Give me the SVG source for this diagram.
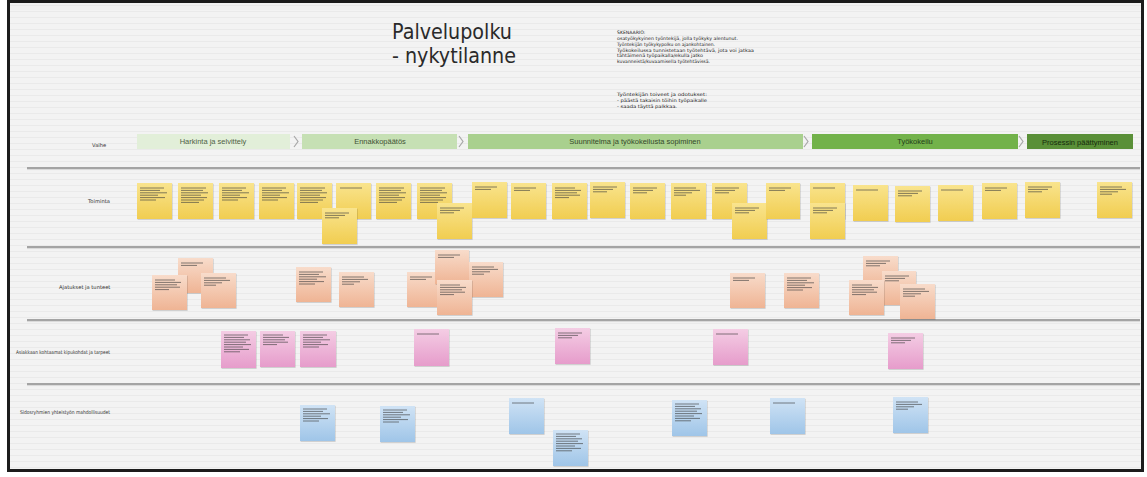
<svg xmlns="http://www.w3.org/2000/svg" xmlns:xlink="http://www.w3.org/1999/xlink" width="1147" height="477" viewBox="0 0 1147 477">
<style>
.lbl{font-family:"DejaVu Sans",sans-serif;font-size:5.2px;fill:#333}
.bar{font-family:"Liberation Sans","Open Sans",sans-serif;font-size:7.5px;text-anchor:middle}
.scn{font-family:"DejaVu Sans",sans-serif;font-size:4.6px;fill:#222}
.ttl{font-family:"DejaVu Sans",sans-serif;font-size:21px;fill:#2a2a2a}
.sep{stroke:#a4a4a4;stroke-width:1.8}
.seps{stroke:#d8d8d8;stroke-width:1}
.chev{fill:none;stroke:#a8a8a8;stroke-width:1.2}
.y{fill:url(#gy)}
.o{fill:url(#go)}
.p{fill:url(#gp)}
.b{fill:url(#gb)}
.n{filter:url(#sh)}
.tl{stroke:#3c3c3c;stroke-width:0.9;opacity:0.7}
</style>
<defs>
<pattern id="stripes" width="8" height="6" patternUnits="userSpaceOnUse">
<rect width="8" height="6" fill="#f3f3f3"/>
<rect y="5" width="8" height="1" fill="#eaeaea"/>
</pattern>
<linearGradient id="gy" x1="0" y1="0" x2="0" y2="1"><stop offset="0" stop-color="#f9e48e"/><stop offset="1" stop-color="#f1cd50"/></linearGradient>
<linearGradient id="go" x1="0" y1="0" x2="0" y2="1"><stop offset="0" stop-color="#f8dccb"/><stop offset="1" stop-color="#efb494"/></linearGradient>
<linearGradient id="gp" x1="0" y1="0" x2="0" y2="1"><stop offset="0" stop-color="#f4cde4"/><stop offset="1" stop-color="#e69ccb"/></linearGradient>
<linearGradient id="gb" x1="0" y1="0" x2="0" y2="1"><stop offset="0" stop-color="#d0e3f5"/><stop offset="1" stop-color="#9fc5e8"/></linearGradient>
<filter id="sh" x="-10%" y="-10%" width="130%" height="130%"><feDropShadow dx="0.6" dy="0.8" stdDeviation="0.6" flood-color="#000" flood-opacity="0.18"/></filter>
<g id="L1" class="tl"><path d="M0 0h22"/></g>
<g id="L2" class="tl"><path d="M0 0h22M0 2.4h16"/></g>
<g id="L3" class="tl"><path d="M0 0h24M0 2.4h20M0 4.8h14"/></g>
<g id="L4" class="tl"><path d="M0 0h22M0 2.4h26M0 4.8h18M0 7.2h12"/></g>
<g id="L5" class="tl"><path d="M0 0h20M0 2.4h26M0 4.8h22M0 7.2h25M0 9.6h14"/></g>
<g id="L6" class="tl"><path d="M0 0h24M0 2.4h20M0 4.8h27M0 7.2h18M0 9.6h25M0 12h16"/></g>
<g id="L7" class="tl"><path d="M0 0h25M0 2.4h22M0 4.8h27M0 7.2h20M0 9.6h26M0 12h23M0 14.4h18"/></g>
<g id="L8" class="tl"><path d="M0 0h24M0 2.4h20M0 4.8h26M0 7.2h22M0 9.6h27M0 12h19M0 14.4h25M0 16.8h16"/></g>
</defs>

<rect width="1147" height="477" fill="#ffffff"/>
<rect x="8.5" y="1.5" width="1134" height="469" fill="url(#stripes)" stroke="#1c1c1c" stroke-width="3"/>

<g id="title">
<text class="ttl" x="392" y="39" textLength="120" lengthAdjust="spacingAndGlyphs">Palvelupolku</text>
<text class="ttl" x="392" y="63" textLength="124" lengthAdjust="spacingAndGlyphs">- nykytilanne</text>
</g>

<g id="scenario">
<text class="scn" x="617" y="34">SKENAARIO:</text>
<text class="scn" x="617" y="40" textLength="121" lengthAdjust="spacingAndGlyphs">osatyökykyinen työntekijä, jolla työkyky alentunut.</text>
<text class="scn" x="617" y="46" textLength="98" lengthAdjust="spacingAndGlyphs">Työntekijän työkykypolku on ajankohtainen.</text>
<text class="scn" x="617" y="51.5" textLength="137" lengthAdjust="spacingAndGlyphs">Työkokeilussa tunnistetaan työtehtävä, jota voi jatkaa</text>
<text class="scn" x="617" y="57" textLength="86" lengthAdjust="spacingAndGlyphs">tähtäimenä työpaikalla/ekulla jatko</text>
<text class="scn" x="617" y="62.5" textLength="93" lengthAdjust="spacingAndGlyphs">kuvanneistä/kuvaamisella työtehtävissä.</text>
<text class="scn" x="617" y="96" textLength="90" lengthAdjust="spacingAndGlyphs">Työntekijän toiveet ja odotukset:</text>
<text class="scn" x="617" y="102" textLength="90" lengthAdjust="spacingAndGlyphs">- päästä takaisin töihin työpaikalle</text>
<text class="scn" x="617" y="108" textLength="60" lengthAdjust="spacingAndGlyphs">- saada täyttä palkkaa.</text>
</g>

<g id="row-labels">
<text class="lbl" x="92" y="147">Vaihe</text>
<text class="lbl" x="88" y="203">Toiminta</text>
<text class="lbl" x="59" y="289">Ajatukset ja tunteet</text>
<text class="lbl" x="16" y="354" textLength="94" lengthAdjust="spacingAndGlyphs">Asiakkaan kohtaamat kipukohdat ja tarpeet</text>
<text class="lbl" x="20" y="414" textLength="90" lengthAdjust="spacingAndGlyphs">Sidosryhmien yhteistyön mahdollisuudet</text>
</g>

<g id="connectors">
<line class="sep" x1="27" y1="168" x2="1140" y2="168"/><line class="seps" x1="27" y1="169.6" x2="1140" y2="169.6"/>
<line class="sep" x1="27" y1="247" x2="1140" y2="247"/><line class="seps" x1="27" y1="248.6" x2="1140" y2="248.6"/>
<line class="sep" x1="27" y1="320" x2="1140" y2="320"/><line class="seps" x1="27" y1="321.6" x2="1140" y2="321.6"/>
<line class="sep" x1="27" y1="384" x2="1140" y2="384"/><line class="seps" x1="27" y1="385.6" x2="1140" y2="385.6"/>
<polyline class="chev" points="294,136 298,141.5 294,147"/>
<polyline class="chev" points="459,136 463,141.5 459,147"/>
<polyline class="chev" points="804,136 808,141.5 804,147"/>
<polyline class="chev" points="1019,136 1023,141.5 1019,147"/>
</g>

<g id="stage-1"><rect x="137" y="134" width="153" height="15" fill="#e2efd9"/><text class="bar" x="213" y="144" fill="#4f5f45">Harkinta ja selvittely</text></g>
<g id="stage-2"><rect x="302" y="134" width="155" height="15" fill="#c6e0b4"/><text class="bar" x="380" y="144" fill="#3f5234" font-size="8">Ennakkopäätös</text></g>
<g id="stage-3"><rect x="468" y="134" width="335" height="15" fill="#a9d08e"/><text class="bar" x="635" y="144" fill="#34492a">Suunnitelma ja työkokeilusta sopiminen</text></g>
<g id="stage-4"><rect x="812" y="134" width="206" height="15" fill="#72b24a"/><text class="bar" x="915" y="144" fill="#24401a">Työkokeilu</text></g>
<g id="stage-5"><rect x="1027" y="134" width="106" height="15" fill="#5a9038"/><text class="bar" x="1080" y="144.8" fill="#152a0c" font-size="8.6">Prosessin päättyminen</text></g>

<!-- Toiminta (yellow) -->
<g id="t1" class="n"><rect class="y" x="137" y="183" width="35" height="36"/><use href="#L6" x="140" y="188"/></g>
<g id="t2" class="n"><rect class="y" x="178" y="183" width="35" height="36"/><use href="#L7" x="181" y="188"/></g>
<g id="t3" class="n"><rect class="y" x="219" y="183" width="35" height="36"/><use href="#L6" x="222" y="188"/></g>
<g id="t4" class="n"><rect class="y" x="259" y="183" width="35" height="36"/><use href="#L6" x="262" y="188"/></g>
<g id="t5" class="n"><rect class="y" x="297" y="183" width="35" height="36"/><use href="#L7" x="300" y="188"/></g>
<g id="t7" class="n"><rect class="y" x="336" y="183" width="35" height="36"/><use href="#L1" x="340" y="188"/></g>
<g id="t6" class="n"><rect class="y" x="322" y="208" width="35" height="36"/><use href="#L3" x="325" y="213"/></g>
<g id="t8" class="n"><rect class="y" x="376" y="183" width="35" height="36"/><use href="#L7" x="379" y="188"/></g>
<g id="t9" class="n"><rect class="y" x="417" y="183" width="35" height="36"/><use href="#L7" x="420" y="188"/></g>
<g id="t10" class="n"><rect class="y" x="437" y="203" width="35" height="36"/><use href="#L3" x="440" y="208"/></g>
<g id="t11" class="n"><rect class="y" x="472" y="182" width="35" height="36"/><use href="#L2" x="475" y="187"/></g>
<g id="t12" class="n"><rect class="y" x="511" y="183" width="35" height="36"/><use href="#L2" x="514" y="188"/></g>
<g id="t13" class="n"><rect class="y" x="552" y="183" width="35" height="36"/><use href="#L5" x="555" y="188"/></g>
<g id="t14" class="n"><rect class="y" x="590" y="182" width="35" height="36"/><use href="#L3" x="593" y="187"/></g>
<g id="t15" class="n"><rect class="y" x="630" y="183" width="35" height="36"/><use href="#L3" x="633" y="188"/></g>
<g id="t16" class="n"><rect class="y" x="671" y="183" width="35" height="36"/><use href="#L4" x="674" y="188"/></g>
<g id="t17" class="n"><rect class="y" x="712" y="183" width="35" height="36"/><use href="#L3" x="715" y="188"/></g>
<g id="t18" class="n"><rect class="y" x="732" y="203" width="35" height="36"/><use href="#L3" x="735" y="208"/></g>
<g id="t19" class="n"><rect class="y" x="766" y="183" width="34" height="36"/><use href="#L2" x="769" y="188"/></g>
<g id="t20" class="n"><rect class="y" x="810" y="183" width="35" height="36"/><use href="#L1" x="813" y="188"/></g>
<g id="t21" class="n"><rect class="y" x="810" y="203" width="35" height="36"/><use href="#L3" x="813" y="208"/></g>
<g id="t22" class="n"><rect class="y" x="853" y="185" width="35" height="36"/><use href="#L1" x="856" y="190"/></g>
<g id="t23" class="n"><rect class="y" x="895" y="186" width="35" height="36"/><use href="#L3" x="898" y="191"/></g>
<g id="t24" class="n"><rect class="y" x="938" y="185" width="35" height="36"/><use href="#L1" x="941" y="190"/></g>
<g id="t25" class="n"><rect class="y" x="982" y="183" width="35" height="36"/><use href="#L2" x="985" y="188"/></g>
<g id="t26" class="n"><rect class="y" x="1025" y="182" width="35" height="36"/><use href="#L3" x="1028" y="187"/></g>
<g id="t27" class="n"><rect class="y" x="1097" y="182" width="35" height="36"/><use href="#L4" x="1100" y="187"/></g>

<!-- Ajatukset ja tunteet (orange) -->
<g id="a2" class="n"><rect class="o" x="178" y="258" width="35" height="35"/><use href="#L2" x="181" y="263"/></g>
<g id="a1" class="n"><rect class="o" x="152" y="275" width="35" height="35"/><use href="#L5" x="155" y="280"/></g>
<g id="a3" class="n"><rect class="o" x="201" y="273" width="35" height="35"/><use href="#L4" x="204" y="278"/></g>
<g id="a4" class="n"><rect class="o" x="296" y="267" width="35" height="35"/><use href="#L6" x="299" y="272"/></g>
<g id="a5" class="n"><rect class="o" x="339" y="272" width="35" height="35"/><use href="#L4" x="342" y="277"/></g>
<g id="a6" class="n"><rect class="o" x="407" y="272" width="35" height="35"/><use href="#L2" x="410" y="277"/></g>
<g id="a7" class="n"><rect class="o" x="435" y="250" width="34" height="34"/><use href="#L2" x="438" y="255"/></g>
<g id="a8" class="n"><rect class="o" x="469" y="262" width="34" height="35"/><use href="#L4" x="472" y="267"/></g>
<g id="a9" class="n"><rect class="o" x="437" y="280" width="35" height="35"/><use href="#L5" x="440" y="285"/></g>
<g id="a10" class="n"><rect class="o" x="730" y="273" width="35" height="35"/><use href="#L2" x="733" y="278"/></g>
<g id="a11" class="n"><rect class="o" x="784" y="273" width="35" height="35"/><use href="#L6" x="787" y="278"/></g>
<g id="a12" class="n"><rect class="o" x="863" y="256" width="35" height="35"/><use href="#L3" x="866" y="261"/></g>
<g id="a14" class="n"><rect class="o" x="882" y="271" width="34" height="34"/><use href="#L3" x="885" y="276"/></g>
<g id="a13" class="n"><rect class="o" x="849" y="280" width="35" height="35"/><use href="#L5" x="852" y="285"/></g>
<g id="a15" class="n"><rect class="o" x="900" y="284" width="35" height="35"/><use href="#L4" x="903" y="289"/></g>

<!-- Asiakkaan kohtaamat (pink) -->
<g id="k1" class="n"><rect class="p" x="221" y="331" width="35" height="37"/><use href="#L8" x="224" y="335"/></g>
<g id="k2" class="n"><rect class="p" x="260" y="331" width="35" height="36"/><use href="#L5" x="263" y="335"/></g>
<g id="k3" class="n"><rect class="p" x="300" y="331" width="36" height="36"/><use href="#L6" x="303" y="335"/></g>
<g id="k4" class="n"><rect class="p" x="414" y="329" width="35" height="37"/><use href="#L1" x="417" y="334"/></g>
<g id="k5" class="n"><rect class="p" x="555" y="328" width="35" height="36"/><use href="#L3" x="558" y="333"/></g>
<g id="k6" class="n"><rect class="p" x="713" y="329" width="35" height="36"/><use href="#L1" x="716" y="334"/></g>
<g id="k7" class="n"><rect class="p" x="888" y="333" width="35" height="36"/><use href="#L3" x="891" y="338"/></g>

<!-- Sidosryhmät (blue) -->
<g id="s1" class="n"><rect class="b" x="300" y="405" width="35" height="36"/><use href="#L6" x="303" y="409"/></g>
<g id="s2" class="n"><rect class="b" x="380" y="406" width="35" height="36"/><use href="#L6" x="383" y="410"/></g>
<g id="s3" class="n"><rect class="b" x="509" y="398" width="35" height="36"/><use href="#L1" x="512" y="403"/></g>
<g id="s4" class="n"><rect class="b" x="553" y="430" width="35" height="36"/><use href="#L8" x="556" y="434"/></g>
<g id="s5" class="n"><rect class="b" x="672" y="400" width="35" height="36"/><use href="#L8" x="675" y="404"/></g>
<g id="s6" class="n"><rect class="b" x="770" y="398" width="35" height="36"/><use href="#L1" x="773" y="403"/></g>
<g id="s7" class="n"><rect class="b" x="893" y="397" width="35" height="36"/><use href="#L4" x="896" y="402"/></g>
</svg>
